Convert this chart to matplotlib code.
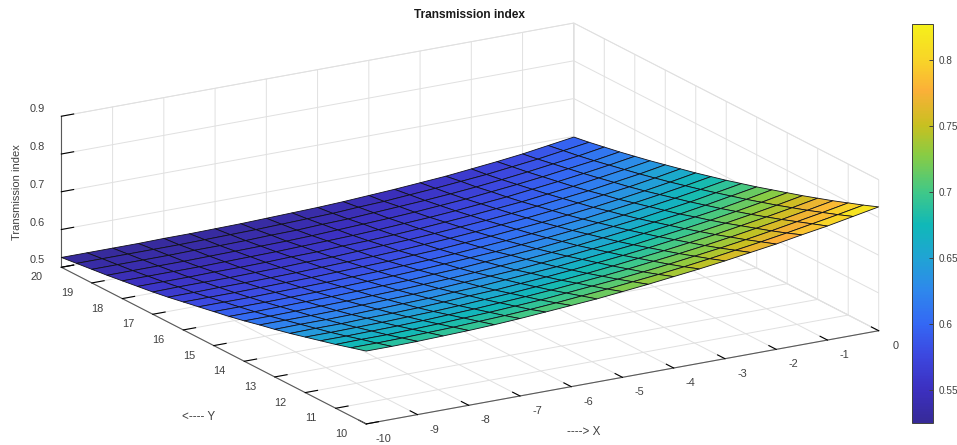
import matplotlib
matplotlib.use('Agg')
import matplotlib.pyplot as plt
import numpy as np
from matplotlib.cm import ScalarMappable
from matplotlib.colors import LinearSegmentedColormap, Normalize
from mpl_toolkits.mplot3d import proj3d

plt.rcParams['font.family'] = ['Liberation Sans', 'DejaVu Sans']
plt.rcParams['axes.unicode_minus'] = False

x_vals = [-10, -9.5, -9, -8.5, -8, -7.5, -7, -6.5, -6, -5.5, -5, -4.5, -4, -3.5, -3, -2.5, -2, -1.5, -1, -0.5, 0]
y_vals = [20, 19.5, 19, 18.5, 18, 17.5, 17, 16.5, 16, 15.5, 15, 14.5, 14, 13.5, 13, 12.5, 12, 11.5, 11, 10.5, 10]

# one row per y value
z_vals = [
    [.526, .526, .526, .526, .527, .527, .528, .529, .531, .533, .535, .538, .542, .546, .551, .556, .563, .570, .578, .588, .598],
    [.531, .531, .531, .531, .531, .532, .533, .534, .536, .538, .540, .544, .547, .552, .557, .563, .569, .577, .585, .595, .605],
    [.536, .536, .536, .536, .537, .537, .538, .540, .541, .544, .546, .550, .554, .558, .563, .569, .576, .584, .593, .602, .613],
    [.541, .541, .541, .541, .542, .543, .544, .545, .547, .550, .553, .556, .560, .565, .570, .577, .584, .592, .601, .610, .621],
    [.547, .547, .547, .547, .548, .549, .550, .552, .554, .556, .559, .563, .567, .572, .578, .584, .592, .600, .609, .619, .630],
    [.553, .553, .553, .554, .554, .555, .557, .558, .561, .563, .566, .570, .575, .580, .586, .592, .600, .608, .618, .628, .639],
    [.559, .560, .560, .560, .561, .562, .564, .565, .568, .571, .574, .578, .583, .588, .594, .601, .609, .617, .627, .637, .649],
    [.566, .566, .567, .567, .568, .569, .571, .573, .575, .578, .582, .586, .591, .597, .603, .610, .618, .627, .636, .647, .659],
    [.574, .574, .574, .575, .576, .577, .579, .581, .583, .587, .590, .595, .600, .606, .612, .619, .627, .636, .646, .657, .669],
    [.582, .582, .582, .583, .584, .585, .587, .589, .592, .595, .599, .604, .609, .615, .622, .629, .638, .647, .657, .668, .680],
    [.590, .590, .590, .591, .592, .594, .596, .598, .601, .605, .609, .613, .619, .625, .632, .640, .648, .658, .668, .679, .691],
    [.598, .598, .599, .600, .601, .603, .605, .607, .611, .614, .619, .624, .629, .636, .643, .651, .659, .669, .679, .691, .703],
    [.607, .607, .608, .609, .610, .612, .614, .617, .620, .624, .629, .634, .640, .646, .654, .662, .671, .680, .691, .703, .715],
    [.617, .617, .617, .618, .620, .622, .624, .627, .631, .635, .639, .645, .651, .658, .665, .674, .683, .693, .703, .715, .728],
    [.626, .627, .627, .628, .630, .632, .634, .638, .641, .646, .651, .656, .663, .670, .677, .686, .695, .705, .716, .728, .741],
    [.636, .637, .637, .639, .640, .642, .645, .649, .652, .657, .662, .668, .675, .682, .690, .699, .708, .718, .729, .741, .754],
    [.647, .647, .648, .649, .651, .653, .656, .660, .664, .669, .674, .680, .687, .695, .703, .712, .721, .732, .743, .755, .768],
    [.658, .658, .659, .660, .662, .665, .668, .672, .676, .681, .687, .693, .700, .708, .716, .725, .735, .746, .757, .769, .782],
    [.669, .670, .670, .672, .674, .677, .680, .684, .688, .694, .700, .706, .713, .721, .730, .739, .749, .760, .772, .784, .797],
    [.681, .681, .682, .684, .686, .689, .692, .696, .701, .707, .713, .720, .727, .735, .744, .754, .764, .775, .787, .799, .812],
    [.693, .693, .694, .696, .698, .701, .705, .710, .715, .720, .727, .734, .742, .750, .759, .769, .779, .791, .802, .815, .828],
]

x_ticks = [-10, -9, -8, -7, -6, -5, -4, -3, -2, -1, 0]
y_ticks = [10, 11, 12, 13, 14, 15, 16, 17, 18, 19, 20]
z_ticks = [0.5, 0.6, 0.7, 0.8, 0.9]
bar_ticks = [0.55, 0.6, 0.65, 0.7, 0.75, 0.8]
bar_labels = ['0.55', '0.6', '0.65', '0.7', '0.75', '0.8']

# colours taken from the colour bar of the picture
bar_colors = ['#362a98', '#3c30c0', '#3c48e0', '#3468f4', '#2e88ec', '#20a4d4', '#10b8b8',
              '#40c888', '#88cc44', '#c8c020', '#fbb038', '#f8d428', '#f5f01a']
bar_stops = [0, 0.083, 0.17, 0.248, 0.333, 0.414, 0.496, 0.579, 0.672, 0.747, 0.835, 0.91, 1]
parula = LinearSegmentedColormap.from_list('parula', list(zip(bar_stops, bar_colors)))

W, H = 957, 445
text_color = '0.25'
tick_size = 7.9

fig = plt.figure(figsize=(W / 100, H / 100), dpi=100)
# axes bigger than the figure so the surface is not clipped
ax = fig.add_axes([-43.5 / W, -292 / H, 1000 / W, 1000 / H], projection='3d', proj_type='ortho')
ax.patch.set_alpha(0)
ax.view_init(elev=17.8, azim=-120.75)
ax.set_box_aspect((1, 1, 0.266), zoom=0.833)

X, Y = np.meshgrid(x_vals, y_vals)
Z = np.array(z_vals)
norm = Normalize(0.525, 0.8273)
ax.plot_surface(X, Y, Z, rstride=1, cstride=1, cmap=parula, norm=norm, shade=False,
                edgecolor='#101018', linewidth=0.6)

ax.set_xlim(-10, 0)
ax.set_ylim(10, 20)
ax.set_zlim(0.5, 0.9)
ax.set_xticks(x_ticks, labels=[])
ax.set_yticks(y_ticks, labels=[])
ax.set_zticks(z_ticks, labels=[])

for axis in [ax.xaxis, ax.yaxis, ax.zaxis]:
    axis.set_pane_color((1, 1, 1, 1))
    axis.pane.set_edgecolor('0.88')
    axis.pane.set_linewidth(0.6)
    axis.line.set_color('0.35')
    axis.line.set_linewidth(0.8)
    axis._axinfo['grid'].update(color='0.88', linewidth=0.7)
    axis._axinfo['tick'].update(inward_factor=0, outward_factor=0.3, color='0.35',
                                linewidth={True: 0.8, False: 0.5})


def tick_label(x, y, z, s):
    # tick labels sit further out than mplot3d would put them
    px, py, _ = proj3d.proj_transform(x, y, z, ax.get_proj())
    ax.text2D(px, py, s, transform=ax.transData, ha='center', va='center',
              fontsize=tick_size, color=text_color)


for t in x_ticks:
    tick_label(t, 10 - 0.556, 0.5 - 0.0167, str(t))
for t in y_ticks:
    tick_label(-10 - 0.48, t, 0.5 - 0.0146, str(t))
for t in z_ticks:
    tick_label(-10 - 0.47, 20, t + 0.03, str(t))

fig.text(470 / W, 1 - 15 / H, 'Transmission index', ha='center', va='center',
         fontsize=8.6, fontweight='bold', color='0.1')
fig.text(17 / W, 1 - 192 / H, 'Transmission index', ha='center', va='center', rotation=90,
         fontsize=8.0, color=text_color)
fig.text(199 / W, 1 - 417 / H, '<---- Y', ha='center', va='center', fontsize=8.4, color=text_color)
fig.text(584 / W, 1 - 432 / H, '----> X', ha='center', va='center', fontsize=8.4, color=text_color)

cax = fig.add_axes([912 / W, 1 - 423 / H, 21 / W, 399 / H])
cb = fig.colorbar(ScalarMappable(norm=norm, cmap=parula), cax=cax)
cb.set_ticks(bar_ticks)
cb.set_ticklabels(bar_labels)
cb.ax.tick_params(direction='in', length=3, width=0.7, color='0.25', labelsize=7.2, labelcolor=text_color, pad=4)
cb.outline.set_edgecolor('0.25')
cb.outline.set_linewidth(0.7)

fig.savefig('out.png', dpi=100)
